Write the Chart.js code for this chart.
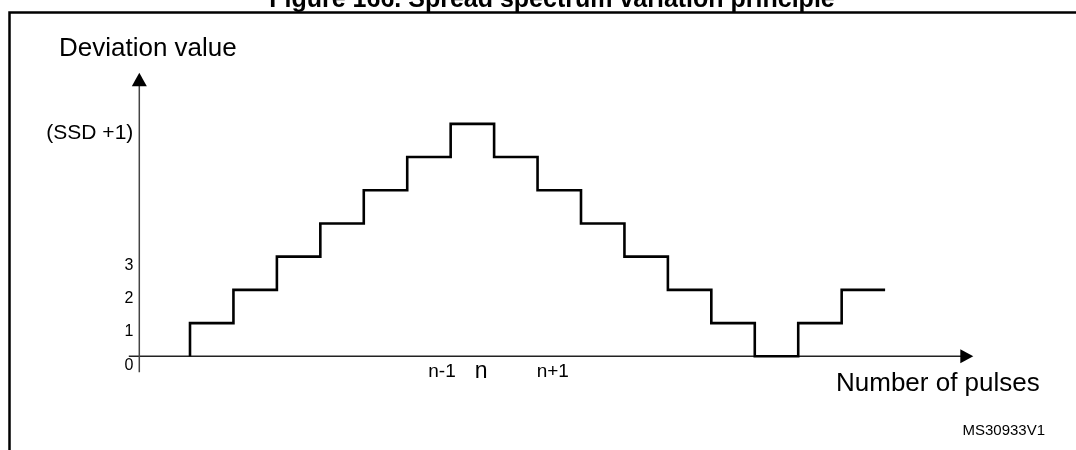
<!DOCTYPE html>
<html>
<head>
<meta charset="utf-8">
<script src="https://cdn.jsdelivr.net/npm/chart.js@4.4.1/dist/chart.umd.min.js"></script>
<style>
  html, body { margin: 0; padding: 0; background: #fff; }
  #wrap { position: relative; width: 1076px; height: 450px; }
</style>
</head>
<body>
<div id="wrap"><canvas id="chart" width="1076" height="450"></canvas></div>
<script>
// pulse where each step starts and the deviation held until the next pulse
const pulses = [0, 1, 2, 3, 4, 5, 6, 7, 8, 9, 10, 11, 12, 13, 14, 15, 16];
const deviation = [1, 2, 3, 4, 5, 6, 7, 6, 5, 4, 3, 2, 1, 0, 1, 2, 2];
const startLevel = 0;

const yTickValues = [0, 1, 2, 3, 7];
const yTickLabels = ['0', '1', '2', '3', '(SSD +1)'];
const xTickValues = [5.8, 6.7, 8.35];
const xTickLabels = ['n-1', 'n', 'n+1'];

const FONT = "'Liberation Sans', Arial, sans-serif";
const yAxisAt = -1.167; // vertical axis crossing, in pulses

const points = [{ x: pulses[0], y: startLevel }].concat(
  pulses.map((p, i) => ({ x: p, y: deviation[i] }))
);

// axes with arrows, frame and the free texts
const decorations = {
  id: 'decorations',
  beforeDatasetsDraw(chart) {
    const { ctx, scales: { x, y } } = chart;
    const ax = x.getPixelForValue(yAxisAt);
    const ay = y.getPixelForValue(0);
    ctx.save();
    ctx.lineWidth = 1.5;
    ctx.strokeStyle = '#222';
    ctx.beginPath();
    ctx.moveTo(ax - 10.5, ay);
    ctx.lineTo(x.right - 12, ay);
    ctx.stroke();
    ctx.strokeStyle = '#444';
    ctx.beginPath();
    ctx.moveTo(ax, y.bottom + 16);
    ctx.lineTo(ax, y.top + 12);
    ctx.stroke();
    ctx.restore();
  },
  afterDraw(chart) {
    const { ctx, scales: { x, y } } = chart;
    const ax = x.getPixelForValue(yAxisAt);
    const ay = y.getPixelForValue(0);
    ctx.save();
    ctx.fillStyle = '#000';
    // arrow heads
    ctx.beginPath();
    ctx.moveTo(x.right, ay);
    ctx.lineTo(x.right - 13, ay - 7);
    ctx.lineTo(x.right - 13, ay + 7);
    ctx.closePath();
    ctx.fill();
    ctx.beginPath();
    ctx.moveTo(ax, y.top);
    ctx.lineTo(ax - 7.5, y.top + 13.5);
    ctx.lineTo(ax + 7.5, y.top + 13.5);
    ctx.closePath();
    ctx.fill();

    // frame
    ctx.strokeStyle = '#000';
    ctx.lineWidth = 2.5;
    ctx.beginPath();
    ctx.moveTo(9.5, 450);
    ctx.lineTo(9.5, 12.5);
    ctx.lineTo(1076, 12.5);
    ctx.stroke();

    ctx.textBaseline = 'alphabetic';
    ctx.font = 'bold 25px ' + FONT;
    ctx.textAlign = 'center';
    ctx.fillText('Figure 166. Spread spectrum variation principle', 552, 7);

    ctx.textBaseline = 'middle';
    ctx.font = '26px ' + FONT;
    ctx.textAlign = 'left';
    ctx.fillText('Deviation value', 59, 49);
    ctx.fillText('Number of pulses', 836, 384);

    ctx.font = '15px ' + FONT;
    ctx.textAlign = 'right';
    ctx.fillText('MS30933V1', 1045, 431);
    ctx.restore();
  }
};

new Chart(document.getElementById('chart'), {
  type: 'line',
  data: {
    datasets: [{
      data: points,
      stepped: true,
      borderColor: '#000',
      borderWidth: 2.6,
      pointRadius: 0,
      fill: false,
      clip: 6
    }]
  },
  options: {
    responsive: false,
    animation: false,
    layout: { padding: { left: 39.3, right: 102.7, top: 72.7, bottom: 63.7 } },
    plugins: { legend: { display: false }, tooltip: { enabled: false } },
    scales: {
      x: {
        type: 'linear',
        min: yAxisAt,
        max: 18.03,
        grid: { display: false, drawTicks: false },
        border: { display: false },
        afterBuildTicks: s => { s.ticks = xTickValues.map(v => ({ value: v })); },
        afterFit: s => { s.height = 30; },
        ticks: {
          autoSkip: false,
          maxRotation: 0,
          padding: 4,
          color: '#000',
          font: c => (c.index === 1
            ? { family: FONT, size: 23, lineHeight: 0.95 }
            : { family: FONT, size: 19 }),
          callback: (v, i) => xTickLabels[i]
        }
      },
      y: {
        type: 'linear',
        min: 0,
        max: 8.54,
        grid: { display: false, drawTicks: false },
        border: { display: false },
        afterBuildTicks: s => { s.ticks = yTickValues.map(v => ({ value: v })); },
        afterFit: s => { s.width = 100; },
        ticks: {
          autoSkip: false,
          padding: 6,
          labelOffset: 9,
          color: '#000',
          font: c => ({ family: FONT, size: c.index === 4 ? 21 : 16 }),
          callback: (v, i) => yTickLabels[i]
        }
      }
    }
  },
  plugins: [decorations]
});
</script>
</body>
</html>
